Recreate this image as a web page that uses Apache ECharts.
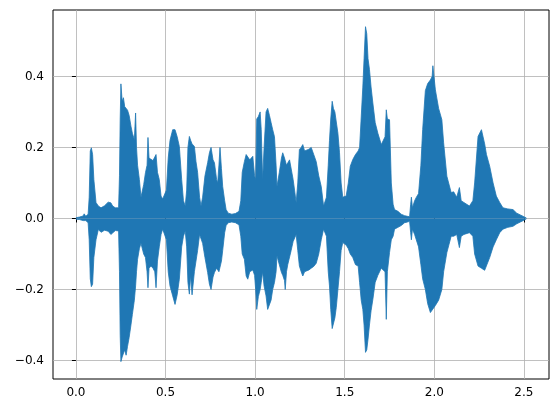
<!DOCTYPE html>
<html>
<head>
<meta charset="utf-8">
<script src="https://cdn.jsdelivr.net/npm/echarts@6/dist/echarts.min.js"></script>
<style>
  html, body { margin: 0; padding: 0; background: #fff; }
  #chart { width: 559px; height: 413px; }
</style>
</head>
<body>
<div id="chart"></div>
<script>
  // 时间轴 (s) 与波形上下包络
  const times = [0.000,0.020,0.040,0.046,0.055,0.068,0.074,0.080,0.086,0.093,0.100,0.112,0.125,0.140,0.160,0.180,0.195,0.205,0.220,0.238,
    0.243,0.247,0.251,0.258,0.265,0.272,0.280,0.288,0.297,0.307,0.315,0.326,0.333,0.338,0.344,0.354,0.363,0.369,0.378,0.388,
    0.397,0.402,0.408,0.419,0.430,0.440,0.447,0.455,0.465,0.475,0.484,0.495,0.505,0.515,0.525,0.540,0.553,0.565,0.577,0.590,
    0.600,0.610,0.618,0.625,0.633,0.640,0.648,0.661,0.670,0.679,0.690,0.698,0.707,0.720,0.735,0.745,0.754,0.765,0.773,0.785,
    0.791,0.798,0.804,0.812,0.819,0.830,0.838,0.850,0.870,0.890,0.910,0.920,0.928,0.940,0.950,0.959,0.970,0.978,0.987,0.997,
    1.003,1.009,1.018,1.028,1.034,1.042,1.050,1.061,1.070,1.080,1.089,1.098,1.108,1.117,1.122,1.135,1.147,1.154,1.164,1.168,
    1.175,1.182,1.192,1.201,1.212,1.220,1.229,1.238,1.247,1.257,1.266,1.276,1.285,1.300,1.313,1.327,1.341,1.355,1.369,1.382,
    1.390,1.398,1.408,1.415,1.422,1.430,1.437,1.445,1.453,1.462,1.471,1.480,1.489,1.500,1.508,1.520,1.531,1.545,1.560,1.575,
    1.583,1.592,1.601,1.608,1.616,1.623,1.630,1.638,1.647,1.657,1.670,1.685,1.704,1.715,1.725,1.732,1.738,1.750,1.760,1.770,
    1.778,1.797,1.815,1.834,1.850,1.862,1.868,1.872,1.878,1.890,1.900,1.912,1.925,1.935,1.950,1.963,1.978,1.988,1.992,2.000,
    2.006,2.024,2.042,2.052,2.070,2.094,2.108,2.125,2.140,2.150,2.165,2.196,2.215,2.225,2.244,2.263,2.281,2.291,2.309,2.328,
    2.346,2.365,2.383,2.410,2.439,2.460,2.480,2.500,2.514];
  const upper = [0.002,0.004,0.007,0.013,0.006,0.012,0.060,0.190,0.199,0.180,0.110,0.045,0.035,0.030,0.036,0.046,0.044,0.035,0.030,0.030,
    0.120,0.280,0.379,0.330,0.340,0.315,0.320,0.305,0.290,0.260,0.240,0.222,0.297,0.200,0.150,0.110,0.060,0.063,0.095,0.129,
    0.150,0.228,0.170,0.166,0.163,0.165,0.180,0.130,0.110,0.063,0.055,0.053,0.080,0.170,0.220,0.250,0.250,0.230,0.203,0.110,
    0.050,0.035,0.080,0.200,0.231,0.220,0.210,0.203,0.160,0.130,0.060,0.035,0.060,0.120,0.157,0.185,0.200,0.165,0.157,0.110,
    0.100,0.150,0.200,0.140,0.090,0.050,0.025,0.015,0.012,0.014,0.020,0.050,0.130,0.160,0.180,0.178,0.165,0.168,0.175,0.120,
    0.110,0.280,0.287,0.300,0.250,0.110,0.200,0.300,0.310,0.290,0.270,0.250,0.230,0.150,0.090,0.130,0.170,0.185,0.170,0.165,
    0.150,0.146,0.165,0.160,0.110,0.080,0.045,0.100,0.194,0.200,0.208,0.190,0.185,0.195,0.200,0.180,0.160,0.120,0.090,0.035,
    0.040,0.060,0.150,0.220,0.280,0.330,0.310,0.300,0.300,0.240,0.185,0.100,0.060,0.063,0.063,0.100,0.147,0.166,0.180,0.190,
    0.200,0.203,0.370,0.450,0.540,0.520,0.450,0.420,0.370,0.325,0.270,0.240,0.208,0.210,0.230,0.306,0.280,0.278,0.100,0.040,
    0.025,0.020,0.012,0.008,0.006,0.005,0.040,0.060,0.030,0.050,0.060,0.070,0.150,0.250,0.360,0.380,0.390,0.400,0.430,0.390,
    0.362,0.310,0.278,0.213,0.119,0.073,0.075,0.060,0.087,0.050,0.045,0.035,0.050,0.100,0.231,0.250,0.210,0.180,0.147,0.100,
    0.063,0.045,0.030,0.027,0.025,0.015,0.010,0.005,0.001];
  const lower = [-0.002,-0.003,-0.006,-0.011,-0.006,-0.012,-0.060,-0.170,-0.192,-0.185,-0.110,-0.060,-0.031,-0.039,-0.033,-0.036,-0.045,-0.040,-0.034,-0.035,
    -0.150,-0.330,-0.403,-0.390,-0.385,-0.370,-0.385,-0.360,-0.335,-0.300,-0.270,-0.230,-0.190,-0.150,-0.115,-0.085,-0.070,-0.075,-0.100,-0.110,
    -0.150,-0.195,-0.140,-0.134,-0.140,-0.150,-0.195,-0.120,-0.080,-0.045,-0.030,-0.035,-0.060,-0.150,-0.190,-0.218,-0.242,-0.215,-0.171,-0.080,
    -0.050,-0.035,-0.080,-0.180,-0.213,-0.160,-0.215,-0.150,-0.120,-0.090,-0.045,-0.040,-0.070,-0.110,-0.152,-0.185,-0.200,-0.165,-0.152,-0.140,
    -0.140,-0.150,-0.152,-0.120,-0.090,-0.040,-0.020,-0.012,-0.010,-0.012,-0.018,-0.050,-0.100,-0.115,-0.162,-0.171,-0.150,-0.150,-0.145,-0.160,
    -0.200,-0.256,-0.220,-0.200,-0.180,-0.150,-0.190,-0.218,-0.256,-0.256,-0.230,-0.200,-0.180,-0.150,-0.105,-0.130,-0.152,-0.160,-0.175,-0.200,
    -0.150,-0.130,-0.126,-0.090,-0.065,-0.060,-0.045,-0.090,-0.134,-0.150,-0.162,-0.150,-0.150,-0.145,-0.140,-0.135,-0.126,-0.100,-0.060,-0.030,
    -0.035,-0.050,-0.150,-0.190,-0.256,-0.310,-0.310,-0.280,-0.250,-0.200,-0.150,-0.090,-0.068,-0.070,-0.075,-0.085,-0.100,-0.110,-0.130,-0.134,
    -0.180,-0.230,-0.256,-0.300,-0.377,-0.370,-0.340,-0.300,-0.260,-0.228,-0.180,-0.160,-0.140,-0.140,-0.150,-0.284,-0.150,-0.096,-0.060,-0.050,
    -0.030,-0.025,-0.020,-0.012,-0.010,-0.008,-0.040,-0.060,-0.030,-0.045,-0.050,-0.080,-0.130,-0.170,-0.200,-0.240,-0.265,-0.260,-0.255,-0.250,
    -0.245,-0.230,-0.200,-0.150,-0.096,-0.050,-0.050,-0.045,-0.082,-0.050,-0.045,-0.040,-0.050,-0.100,-0.134,-0.140,-0.146,-0.146,-0.110,-0.080,
    -0.060,-0.040,-0.030,-0.025,-0.022,-0.015,-0.010,-0.005,-0.001];
  const xTicks = [0, 0.5, 1.0, 1.5, 2.0, 2.5];
  const yTicks = [-0.4, -0.2, 0, 0.2, 0.4];

  const chart = echarts.init(document.getElementById('chart'));
  const upPts = times.map((t, i) => [t, upper[i]]);
  const loPts = times.map((t, i) => [t, lower[i]]);
  const blue = '#1f77b4';
  const fmt = v => (v < 0 ? '\u2212' : '') + Math.abs(v).toFixed(1);

  chart.setOption({
    animation: false,
    grid: {
      left: 53, right: 10, top: 10, bottom: 34,
      show: true, borderColor: '#000', borderWidth: 1, backgroundColor: '#fff'
    },
    xAxis: {
      type: 'value', min: -0.128, max: 2.64,
      axisLine: { show: false },
      axisTick: { show: true, length: 4, lineStyle: { color: '#000', width: 1 }, customValues: xTicks },
      axisLabel: { customValues: xTicks, formatter: fmt, color: '#000', fontSize: 12, fontFamily: 'DejaVu Sans', margin: 8 },
      splitLine: { show: true, lineStyle: { color: '#b0b0b0', width: 0.8 } }
    },
    yAxis: {
      type: 'value', min: -0.452, max: 0.587,
      axisLine: { show: false },
      axisTick: { show: true, length: 4, lineStyle: { color: '#000', width: 1 }, customValues: yTicks },
      axisLabel: { customValues: yTicks, formatter: fmt, color: '#000', fontSize: 12, fontFamily: 'DejaVu Sans', margin: 9 },
      splitLine: { show: true, lineStyle: { color: '#b0b0b0', width: 0.8 } }
    },
    series: [
      {
        type: 'line', data: upPts, showSymbol: false, z: 3,
        lineStyle: { color: blue, width: 0.8 }, areaStyle: { color: blue, opacity: 1 }
      },
      {
        type: 'line', data: loPts, showSymbol: false, z: 3,
        lineStyle: { color: blue, width: 0.8 }, areaStyle: { color: blue, opacity: 1 }
      }
    ]
  });
</script>
</body>
</html>
